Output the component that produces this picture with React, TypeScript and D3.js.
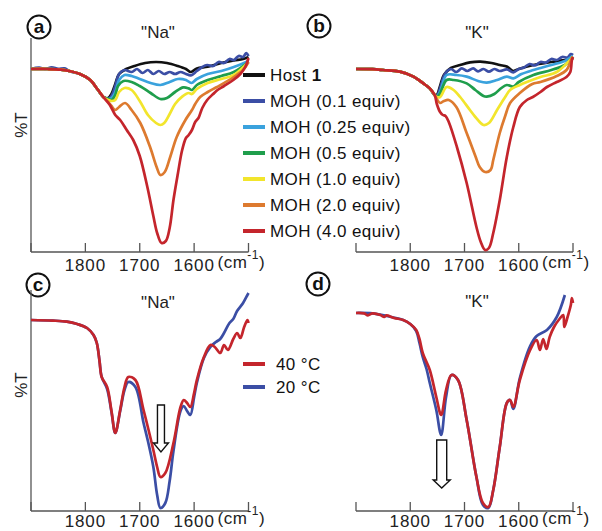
import * as d3 from "d3";

// wavenumber (cm-1), %T (arbitrary units)
const naOnset = [[1900, 91.5], [1870, 91.5], [1845, 91.2], [1830, 90.5], [1810, 89], [1791, 86], [1778, 81.5], [1767, 77.5]];
const naBlueOnset = [[1900, 91.5], [1885, 92.2], [1875, 91.5], [1862, 92.3], [1850, 91.6], [1838, 91.8], [1830, 90.5], [1810, 89], [1791, 86], [1778, 81.5], [1767, 77.5]];
const kOnset = [[1900, 91.5], [1870, 91.4], [1850, 91], [1819, 90.2], [1794, 87.7], [1776, 84.3], [1764, 81.8], [1755, 78.5]];

const naHost = [[1758, 77], [1752, 79], [1745, 84], [1738, 89], [1725, 91.5], [1710, 93], [1690, 94.5], [1670, 95], [1650, 94.5], [1630, 93], [1615, 91.5], [1606, 90], [1595, 91.8], [1575, 92.7], [1550, 94.5], [1527, 95.8], [1510, 96.5], [1500, 97.5]];
const naMoh01 = [[1758, 76.5], [1752, 78], [1745, 83], [1738, 89], [1728, 91], [1715, 90], [1705, 91.5], [1695, 89.5], [1685, 91], [1675, 89], [1665, 90.5], [1655, 89], [1645, 90], [1635, 89], [1625, 90], [1615, 89], [1606, 88.3], [1595, 90.5], [1585, 92.5], [1576, 93.5], [1565, 93], [1555, 95], [1545, 94.5], [1535, 96.5], [1527, 96], [1518, 98], [1510, 97.5], [1504, 99.5], [1500, 98]];
const naMoh025 = [[1758, 76.5], [1752, 77], [1745, 80], [1738, 86], [1728, 88.5], [1715, 88], [1700, 86.5], [1680, 84.5], [1662, 83.5], [1645, 85], [1630, 86.5], [1615, 86], [1605, 84.5], [1595, 86.5], [1575, 89], [1550, 90.5], [1527, 92.5], [1500, 95.5]];
const naMoh05 = [[1758, 76.5], [1752, 76], [1745, 78.5], [1740, 83], [1730, 85.5], [1715, 85], [1700, 83], [1680, 79.5], [1662, 76.5], [1650, 77], [1635, 80], [1620, 82.3], [1610, 81.8], [1604, 81], [1595, 83.5], [1575, 86], [1550, 88], [1527, 90], [1500, 95]];
const naMoh10 = [[1758, 76], [1752, 75.5], [1745, 76], [1738, 80], [1728, 82], [1715, 81], [1700, 75.5], [1685, 68.5], [1670, 64.5], [1662, 63.5], [1655, 64.5], [1645, 69], [1635, 74], [1622, 77.7], [1610, 79.5], [1604, 79], [1595, 81.5], [1575, 84.5], [1550, 86.5], [1527, 88.5], [1500, 95]];
const naMoh20 = [[1758, 75], [1752, 73], [1745, 71], [1738, 72.5], [1727, 74.5], [1715, 71], [1699, 64.5], [1681, 52.5], [1669, 42.5], [1662, 38.5], [1654, 40], [1644, 47.5], [1632, 57.5], [1616, 66], [1604, 71], [1598, 74], [1589, 77.5], [1575, 80], [1558, 82.5], [1527, 87.5], [1510, 91], [1500, 95]];
const naMoh40 = [[1755, 73.5], [1745, 68.5], [1736, 66], [1724, 61], [1712, 56], [1700, 48], [1686, 32.5], [1675, 18], [1668, 9.5], [1660, 4.5], [1652, 5.5], [1645, 12], [1638, 26], [1630, 39], [1622, 51], [1615, 57], [1610, 58.5], [1604, 61], [1598, 65], [1592, 67], [1585, 72], [1576, 76], [1565, 79], [1557, 81], [1545, 83], [1528, 86], [1515, 89], [1506, 92.5], [1500, 97]];

const kHost = [[1751, 78.5], [1745, 83], [1738, 88.5], [1725, 92], [1708, 93.5], [1690, 94.8], [1671, 95.2], [1650, 94.5], [1635, 93.5], [1622, 92.7], [1610, 90.5], [1600, 91.5], [1573, 93.5], [1540, 95], [1515, 96], [1502, 96.5], [1500, 97]];
const kMoh01 = [[1751, 78], [1745, 82], [1738, 88], [1733, 90.2], [1725, 91.5], [1715, 90], [1705, 91.8], [1695, 90.5], [1684, 91.8], [1675, 90.3], [1665, 91.5], [1655, 90.2], [1645, 91.5], [1635, 90.5], [1622, 91.3], [1610, 89.8], [1600, 91.5], [1590, 92.3], [1580, 94], [1570, 93.3], [1560, 95], [1550, 94.7], [1540, 96.5], [1530, 96], [1520, 97.5], [1510, 97.3], [1504, 99], [1500, 98.5]];
const kMoh025 = [[1751, 77.7], [1745, 80.2], [1733, 88.5], [1715, 88.5], [1696, 87.7], [1675, 85.5], [1659, 84.7], [1640, 86], [1622, 87.7], [1610, 86.8], [1595, 89], [1573, 91], [1540, 93.5], [1515, 95.5], [1502, 97.7], [1500, 98]];
const kMoh05 = [[1751, 77.5], [1745, 79.3], [1733, 86], [1720, 86], [1696, 84.3], [1680, 81], [1665, 78], [1659, 77.7], [1645, 79], [1632, 82], [1622, 83.5], [1610, 82.7], [1600, 85], [1573, 88.5], [1540, 91], [1515, 93.5], [1502, 97], [1500, 97.5]];
const kMoh10 = [[1751, 77.5], [1745, 77.5], [1733, 82.5], [1720, 81], [1708, 77.5], [1690, 71], [1680, 67.5], [1665, 63.5], [1655, 64.5], [1640, 71], [1625, 77.5], [1616, 81], [1598, 83.5], [1585, 85], [1560, 87.5], [1530, 90], [1502, 97], [1500, 97.5]];
const kMoh20 = [[1751, 76.5], [1745, 74.5], [1738, 75.5], [1729, 76], [1715, 72.5], [1696, 59.5], [1680, 48], [1672, 42.5], [1662, 40], [1652, 41], [1647, 46], [1635, 59.5], [1625, 68], [1616, 74.5], [1598, 79.5], [1575, 84], [1560, 85], [1530, 88], [1512, 91], [1502, 97], [1500, 97.5]];
const kMoh40 = [[1751, 74], [1745, 70], [1740, 68.5], [1735, 68], [1729, 65], [1714, 52.5], [1696, 34.5], [1678, 12.5], [1670, 5], [1662, 1], [1655, 2], [1647, 9.5], [1635, 26], [1622, 47.5], [1610, 62.5], [1598, 72.5], [1585, 76], [1574, 77.5], [1560, 80], [1548, 82.5], [1530, 85], [1512, 87.5], [1505, 90], [1502, 96], [1500, 97.5]];

const naTemp40 = [[1900, 95.5], [1860, 95.2], [1834, 94.7], [1815, 93.5], [1797, 91.5], [1785, 88], [1779, 84], [1774, 75], [1770, 67], [1760, 62], [1752, 50], [1745, 39], [1736, 50.5], [1728, 62], [1721, 67], [1708, 65.5], [1693, 50.5], [1675, 30.5], [1668, 22], [1662, 17], [1653, 19], [1638, 34], [1625, 52], [1619, 55.5], [1613, 54], [1607, 52], [1600, 59], [1595, 65.5], [1582, 77], [1570, 83], [1562, 82], [1552, 79], [1545, 83], [1538, 80.5], [1528, 86], [1521, 89], [1515, 86.5], [1508, 92], [1502, 95.5], [1500, 94]];
const naTemp20 = [[1900, 95.5], [1860, 95.2], [1834, 94.7], [1815, 93.5], [1797, 91.5], [1785, 88], [1779, 84], [1774, 75], [1770, 67], [1760, 61], [1752, 49.5], [1745, 39], [1736, 50], [1728, 60.5], [1721, 64.5], [1708, 62], [1693, 44], [1685, 35], [1675, 22], [1668, 8], [1662, 1.5], [1653, 4], [1645, 15], [1638, 30], [1625, 50], [1619, 52.5], [1613, 50], [1607, 48], [1600, 57], [1595, 64], [1582, 76.5], [1570, 82], [1560, 84.5], [1552, 86], [1545, 89], [1535, 94], [1528, 96], [1521, 100], [1510, 104], [1502, 108], [1500, 109]];
const kTemp40 = [[1900, 99], [1885, 98.8], [1878, 97.8], [1870, 98.8], [1855, 98], [1848, 97], [1844, 97.8], [1830, 96.5], [1813, 95.5], [1800, 93.5], [1789, 90.5], [1783, 86], [1777, 79], [1764, 70.5], [1752, 57], [1743, 48], [1734, 60.5], [1724, 68], [1712, 65.5], [1696, 45.5], [1678, 17], [1666, 4], [1656, 2], [1647, 10.5], [1635, 32], [1622, 54], [1616, 55.5], [1610, 52], [1598, 65.5], [1579, 80.5], [1567, 85.5], [1561, 80.5], [1555, 86], [1549, 81], [1543, 87], [1535, 92], [1525, 96], [1518, 98], [1516, 92], [1510, 97], [1504, 103], [1502, 106.5], [1500, 104]];
const kTemp20 = [[1900, 99], [1870, 98.8], [1844, 97.5], [1813, 95.5], [1800, 93.5], [1789, 90], [1783, 84], [1777, 77], [1770, 71], [1764, 64], [1752, 50.5], [1743, 38], [1734, 57], [1724, 68], [1712, 65.5], [1696, 45.5], [1678, 17], [1666, 3], [1656, 1.5], [1647, 10.5], [1635, 32], [1622, 54], [1616, 55.5], [1610, 51], [1598, 66.5], [1579, 82.5], [1567, 87.5], [1548, 90.5], [1530, 97], [1515, 108]];

const mohLabels = ["Host", "MOH (0.1 equiv)", "MOH (0.25 equiv)", "MOH (0.5 equiv)", "MOH (1.0 equiv)", "MOH (2.0 equiv)", "MOH (4.0 equiv)"];
const mohColors = ["#111111", "#3b4ea5", "#3aa2dd", "#1f9e4c", "#f2e52c", "#dd7a2f", "#c4252c"];
const tempLabels = ["40 °C", "20 °C"];
const tempColors = ["#c4252c", "#3b4ea5"];
const xTicks = [1800, 1700, 1600];
const xEdges = [1900, 1500];

const FONT = "'Liberation Sans', Arial, sans-serif";
const W = 602;
const H = 531;

const topY = d3.scaleLinear().domain([0, 107]).range([252, 38]);
const botY = d3.scaleLinear().domain([0, 110.5]).range([511, 290]);
const leftX = d3.scaleLinear().domain([1900, 1500]).range([31, 248.5]);
const rightX = d3.scaleLinear().domain([1900, 1500]).range([356, 573]);

function Panel({ x, y, series, colors, letter, title, yAxis, arrow, badge, titlePos, tickY }) {
  const line = d3
    .line()
    .x((d) => x(d[0]))
    .y((d) => y(d[1]))
    .curve(d3.curveCatmullRom.alpha(0.5));
  const [x0, x1] = x.range();
  const [yb, yt] = y.range();
  let arrowPath = null;
  if (arrow) {
    const ax = x(arrow.at);
    const t = y(arrow.top);
    const b = y(arrow.base);
    const tip = y(arrow.tip);
    arrowPath = `M${ax - arrow.shaft},${t}H${ax + arrow.shaft}V${b}H${ax + arrow.head}L${ax},${tip}L${ax - arrow.head},${b}H${ax - arrow.shaft}Z`;
  }
  return (
    <g fontFamily={FONT}>
      <circle cx={badge[0]} cy={badge[1]} r={11.5} fill="none" stroke="#111" strokeWidth={2} />
      <text x={badge[0]} y={badge[1] + 6} textAnchor="middle" fontSize={19} fontWeight="bold" fill="#111">
        {letter}
      </text>
      <text x={titlePos[0]} y={titlePos[1]} textAnchor="middle" fontSize={17} fill="#222">
        {title}
      </text>
      {yAxis && <line x1={x0} x2={x0} y1={yt} y2={yb} stroke="#555" strokeWidth={1.3} />}
      <line x1={x0} x2={x1} y1={yb} y2={yb} stroke="#555" strokeWidth={1.3} />
      {[...xTicks, ...xEdges].map((t) => (
        <line key={t} x1={x(t)} x2={x(t)} y1={yb} y2={yb - 9} stroke="#555" strokeWidth={1.3} />
      ))}
      {xTicks.map((t) => (
        <text key={t} x={x(t)} y={tickY} textAnchor="middle" fontSize={17} letterSpacing={0.9} fill="#222">
          {t}
        </text>
      ))}
      <text x={x(1500) - 31} y={tickY - 3} fontSize={17} fill="#222" letterSpacing={0.5}>
        (cm
        <tspan fontSize={12} dy={-9}>-1</tspan>
        <tspan dy={9}>)</tspan>
      </text>
      {series.map((s, i) => (
        <path key={i} d={line(s)} fill="none" stroke={colors[i]} strokeWidth={2.7} strokeLinejoin="round" />
      ))}
      {arrowPath && <path d={arrowPath} fill="#fff" stroke="#111" strokeWidth={1.4} strokeLinejoin="miter" />}
    </g>
  );
}

function Legend({ labels, colors, top, step, textX, boldSuffix }) {
  return (
    <g fontFamily={FONT} fontSize={17} fill="#111">
      {labels.map((l, i) => (
        <g key={l} transform={`translate(0,${top + i * step})`}>
          <line x1={243} x2={265} y1={0} y2={0} stroke={colors[i]} strokeWidth={4} />
          <text x={textX} y={6} letterSpacing={0.4}>
            {l}
            {i === 0 && boldSuffix && <tspan fontWeight="bold">{boldSuffix}</tspan>}
          </text>
        </g>
      ))}
    </g>
  );
}

export default function App() {
  const naSeries = [
    naOnset.concat(naHost),
    naBlueOnset.concat(naMoh01),
    naOnset.concat(naMoh025),
    naOnset.concat(naMoh05),
    naOnset.concat(naMoh10),
    naOnset.concat(naMoh20),
    naOnset.concat(naMoh40),
  ];
  const kSeries = [kHost, kMoh01, kMoh025, kMoh05, kMoh10, kMoh20, kMoh40].map((s) => kOnset.concat(s));
  return (
    <svg
      width={W}
      height={H}
      viewBox={`0 0 ${W} ${H}`}
      style={{ position: "absolute", left: 0, top: 0, background: "#fff" }}
    >
      <rect width={W} height={H} fill="#fff" />
      <Panel
        x={leftX}
        y={topY}
        series={naSeries}
        colors={mohColors}
        letter="a"
        title={'"Na"'}
        yAxis
        badge={[39, 27]}
        titlePos={[158, 38]}
        tickY={271}
      />
      <Panel
        x={rightX}
        y={topY}
        series={kSeries}
        colors={mohColors}
        letter="b"
        title={'"K"'}
        badge={[319, 26]}
        titlePos={[477, 38]}
        tickY={271}
      />
      <Panel
        x={leftX}
        y={botY}
        series={[naTemp20, naTemp40]}
        colors={[tempColors[1], tempColors[0]]}
        letter="c"
        title={'"Na"'}
        yAxis
        badge={[38, 285]}
        titlePos={[158, 308]}
        tickY={527}
        arrow={{ at: 1661, top: 53, base: 34, tip: 29.5, shaft: 3.5, head: 7.5 }}
      />
      <Panel
        x={rightX}
        y={botY}
        series={[kTemp20, kTemp40]}
        colors={[tempColors[1], tempColors[0]]}
        letter="d"
        title={'"K"'}
        badge={[318, 284]}
        titlePos={[477, 307]}
        tickY={527}
        arrow={{ at: 1742, top: 35.5, base: 15.5, tip: 11.5, shaft: 5, head: 8.5 }}
      />
      <text transform="translate(27,125) rotate(-90)" textAnchor="middle" fontFamily={FONT} fontSize={17} fill="#222">
        %T
      </text>
      <text transform="translate(27,385) rotate(-90)" textAnchor="middle" fontFamily={FONT} fontSize={17} fill="#222">
        %T
      </text>
      <Legend labels={mohLabels} colors={mohColors} top={75} step={26} textX={270} boldSuffix=" 1" />
      <Legend labels={tempLabels} colors={tempColors} top={364} step={23} textX={276} />
    </svg>
  );
}
